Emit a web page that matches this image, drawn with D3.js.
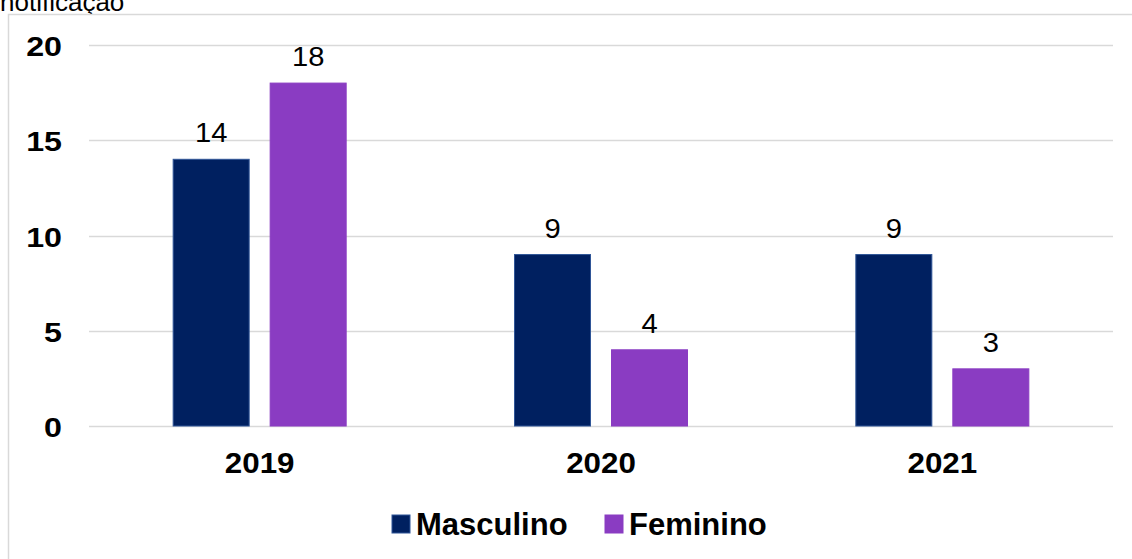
<!DOCTYPE html>
<html>
<head>
<meta charset="utf-8">
<script src="https://cdn.jsdelivr.net/npm/d3@7"></script>
<style>
  html, body { margin: 0; padding: 0; background: #fff; }
  svg { display: block; font-family: Arial, "Liberation Sans", sans-serif; }
</style>
</head>
<body>
<svg id="chart" width="1132" height="559"></svg>
<script>
// Notificações por sexo e ano
const years = ["2019", "2020", "2021"];
const seriesNames = ["Masculino", "Feminino"];
const masculino = [14, 9, 9];
const feminino = [18, 4, 3];
const yTicks = [0, 5, 10, 15, 20];
const colors = ["#002060", "#8A3CC2"];
const strokes = ["#2F5597", "#8A3CC2"];

const values = [masculino, feminino];

const svg = d3.select("#chart");

// título cortado no topo
svg.append("text")
  .attr("x", 0).attr("y", 11)
  .attr("font-size", 26)
  .attr("fill", "#000")
  .text("notificação");

// moldura da área do gráfico
svg.append("rect")
  .attr("x", 8.5).attr("y", 14.5)
  .attr("width", 1140).attr("height", 560)
  .attr("fill", "#fff")
  .attr("stroke", "#d9d9d9")
  .attr("stroke-width", 1.5);

const plotLeft = 89, plotRight = 1113;
const y = d3.scaleLinear().domain([0, 20]).range([426, 45]);
const x0 = d3.scaleBand().domain(years).range([plotLeft, plotRight]);
const x1 = d3.scaleBand().domain(seriesNames).range([-87, 87]).paddingInner(20 / 97);

// linhas de grade
svg.append("g")
  .selectAll("line")
  .data(yTicks)
  .join("line")
  .attr("x1", plotLeft).attr("x2", plotRight)
  .attr("y1", d => Math.round(y(d)) + 0.5)
  .attr("y2", d => Math.round(y(d)) + 0.5)
  .attr("stroke", "#d9d9d9")
  .attr("stroke-width", 1.5);

// rótulos do eixo Y
svg.append("g")
  .selectAll("text")
  .data(yTicks)
  .join("text")
  .attr("transform", d => `translate(62,${y(d) + 11}) scale(1.15,1)`)
  .attr("text-anchor", "end")
  .attr("font-size", 28)
  .attr("font-weight", "bold")
  .text(d => d);

// barras
const groups = svg.append("g")
  .selectAll("g")
  .data(years)
  .join("g")
  .attr("transform", d => `translate(${x0(d) + x0.bandwidth() / 2},0)`);

groups.selectAll("rect")
  .data((d, i) => seriesNames.map((s, j) => ({ s, j, v: values[j][i] })))
  .join("rect")
  .attr("x", d => x1(d.s) + 0.5)
  .attr("width", x1.bandwidth() - 1)
  .attr("y", d => y(d.v))
  .attr("height", d => y(0) - y(d.v))
  .attr("fill", d => colors[d.j])
  .attr("stroke", d => strokes[d.j])
  .attr("stroke-width", 1);

// rótulos de valor
groups.selectAll("text")
  .data((d, i) => seriesNames.map((s, j) => ({ s, j, v: values[j][i] })))
  .join("text")
  .attr("transform", d => `translate(${x1(d.s) + x1.bandwidth() / 2},${y(d.v) - 17}) scale(1.08,1)`)
  .attr("text-anchor", "middle")
  .attr("font-size", 27)
  .attr("fill", "#000")
  .text(d => d.v);

// rótulos do eixo X
svg.append("g")
  .selectAll("text")
  .data(years)
  .join("text")
  .attr("transform", d => `translate(${x0(d) + x0.bandwidth() / 2},473) scale(1.08,1)`)
  .attr("text-anchor", "middle")
  .attr("font-size", 29)
  .attr("font-weight", "bold")
  .text(d => d);

// legenda
const legendX = [392, 605];
const legend = svg.append("g")
  .selectAll("g")
  .data(seriesNames)
  .join("g")
  .attr("transform", (d, i) => `translate(${legendX[i]},515)`);

legend.append("rect")
  .attr("width", 18).attr("height", 18)
  .attr("fill", (d, i) => colors[i])
  .attr("stroke", (d, i) => strokes[i])
  .attr("stroke-width", 1);

legend.append("text")
  .attr("x", 24).attr("y", 19.5)
  .attr("font-size", 31)
  .attr("font-weight", "bold")
  .text(d => d);
</script>
</body>
</html>
